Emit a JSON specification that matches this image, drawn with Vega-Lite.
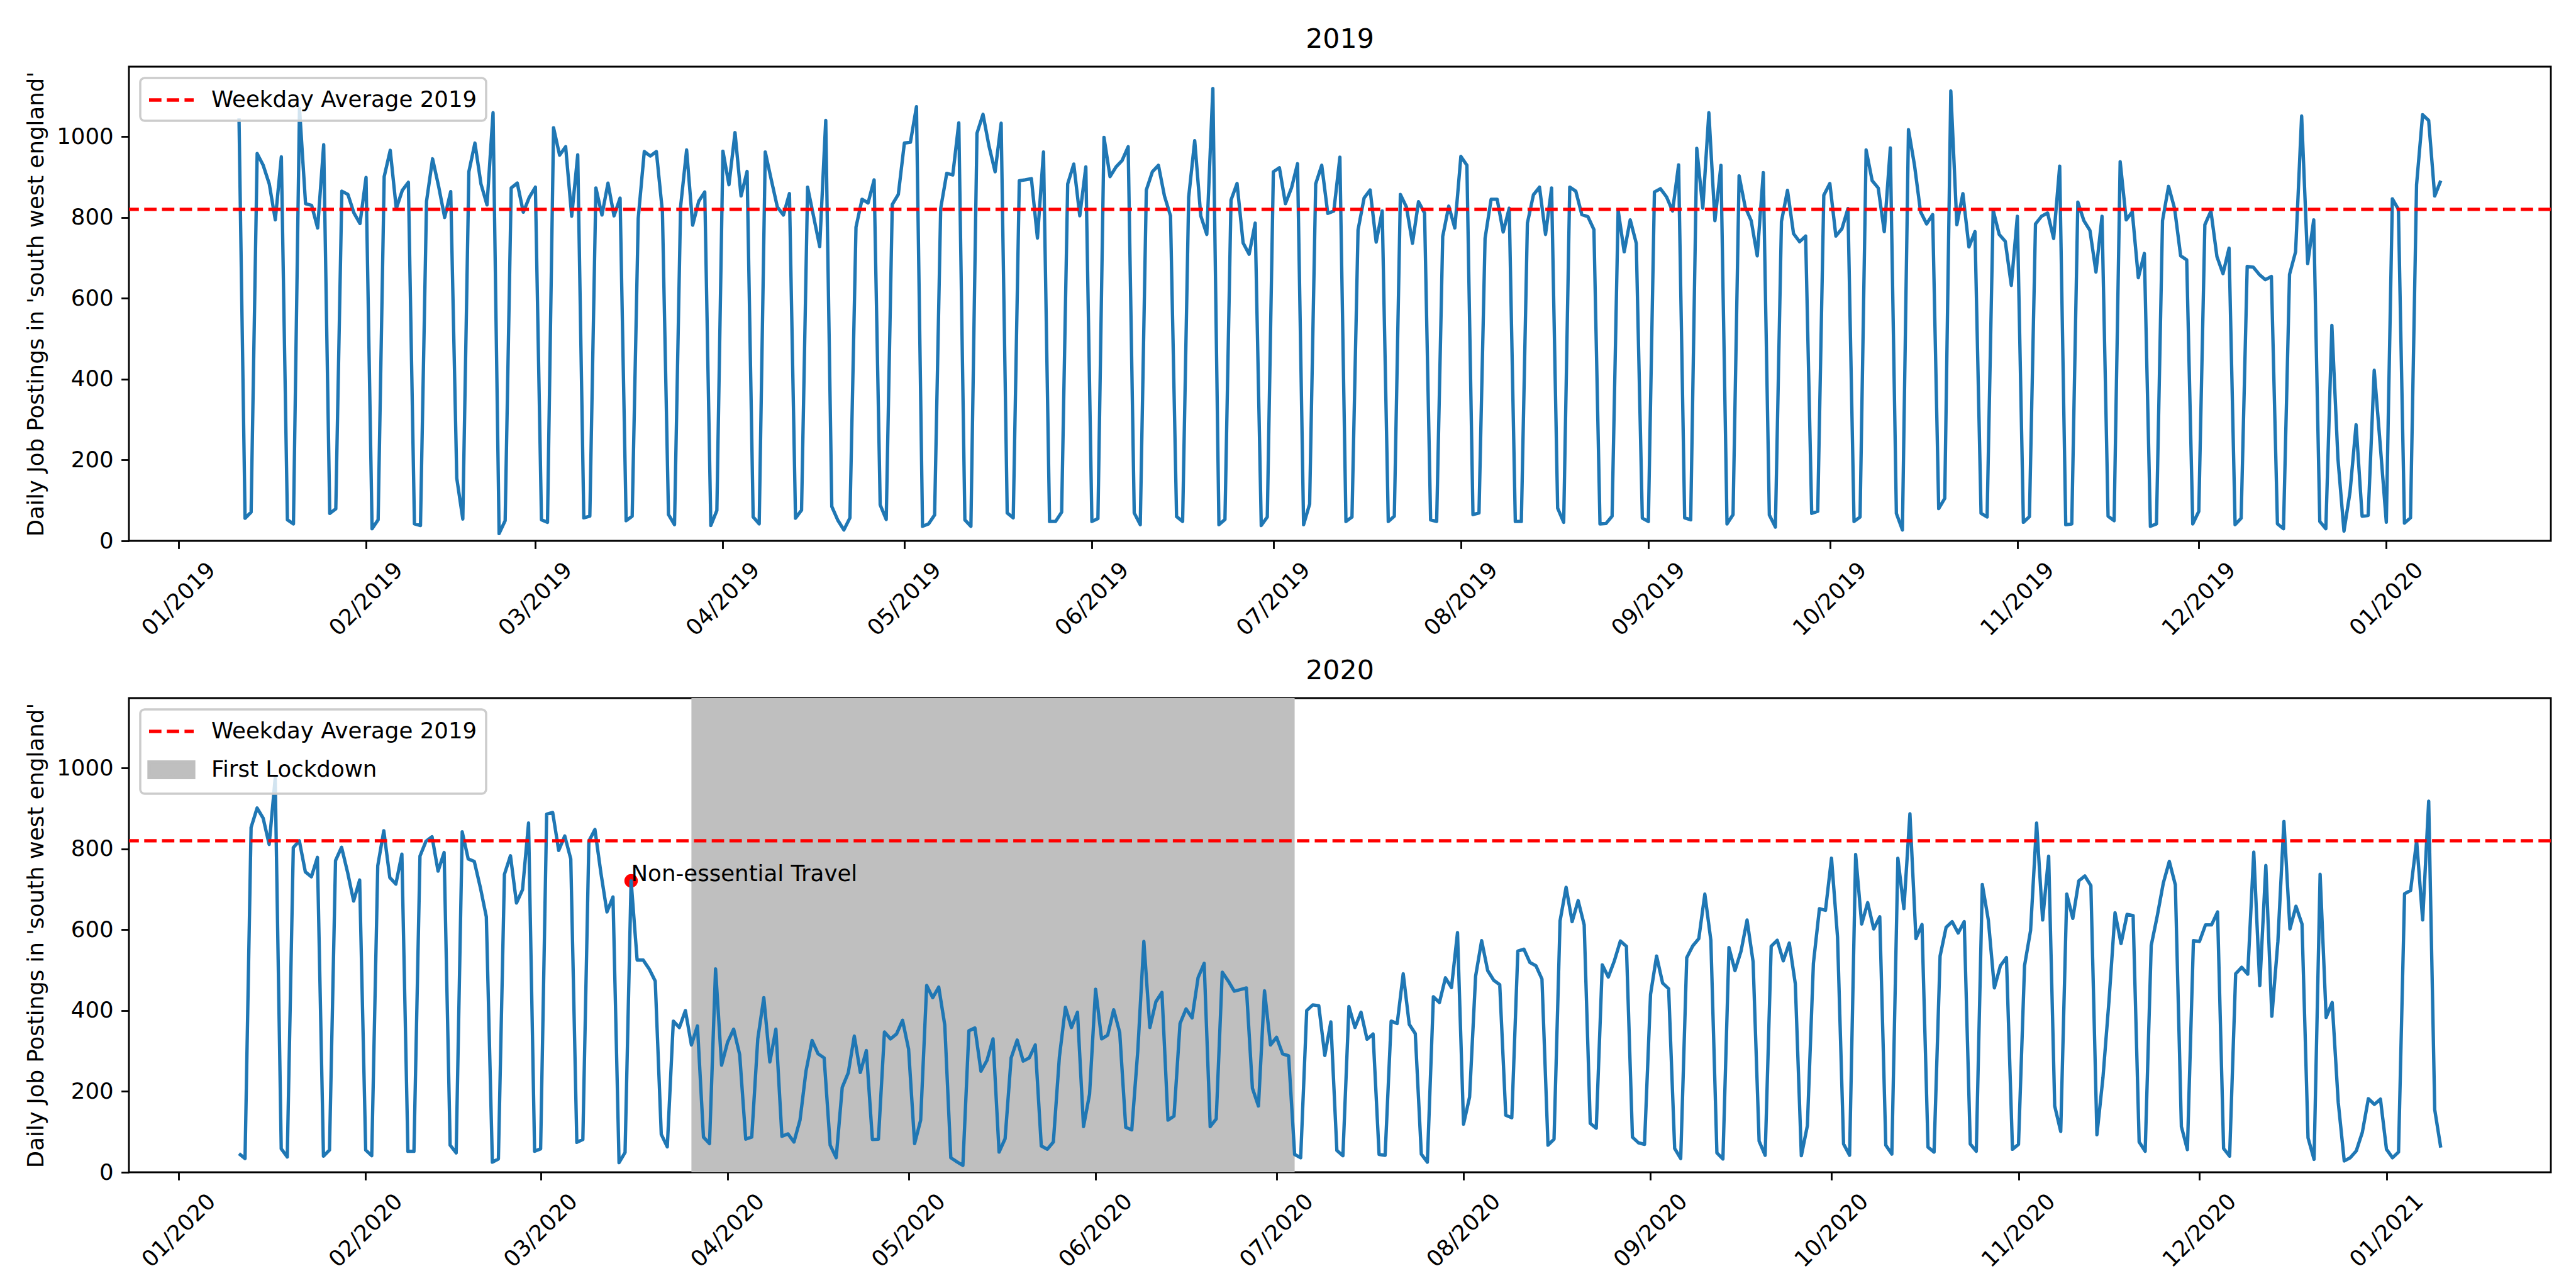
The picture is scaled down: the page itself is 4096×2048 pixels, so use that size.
{
  "$schema": "https://vega.github.io/schema/vega-lite/v6.json",
  "background": "white",
  "autosize": {"type": "pad"},
  "padding": {"left": 39, "top": 40, "right": 41, "bottom": 20},
  "bounds": "flush",
  "spacing": 250,
  "resolve": {"scale": {"color": "independent", "x": "independent"}, "legend": {"color": "independent"}, "axis": {"x": "independent"}},
  "config": {
    "font": "DejaVu Sans",
    "view": {"stroke": "black", "strokeWidth": 2.84},
    "axis": {
      "grid": false, "domain": false,
      "tickColor": "black", "tickWidth": 2.84, "tickSize": 12.4,
      "labelFont": "DejaVu Sans", "labelFontSize": 35.6, "labelColor": "black", "labelPadding": 12.4,
      "titleFont": "DejaVu Sans", "titleFontSize": 35.6, "titleFontWeight": "normal", "titleColor": "black"
    },
    "legend": {
      "orient": "top-left", "offset": 18, "padding": 14,
      "fillColor": "rgba(255,255,255,0.8)", "strokeColor": "#cccccc", "cornerRadius": 7,
      "labelFont": "DejaVu Sans", "labelFontSize": 35.6, "labelColor": "black", "labelOffset": 28, "labelLimit": 2000,
      "symbolSize": 1296, "rowPadding": 18
    },
    "title": {"font": "DejaVu Sans", "fontSize": 42.7, "fontWeight": "normal", "color": "black", "anchor": "middle", "frame": "group", "baseline": "alphabetic", "offset": 21.3}
  },
  "datasets": {
    "y2019": [
      {"d":"2019-01-11","v":1045},{"d":"2019-01-12","v":56},{"d":"2019-01-13","v":71},{"d":"2019-01-14","v":958},{"d":"2019-01-15","v":929},{"d":"2019-01-16","v":883},{"d":"2019-01-17","v":794},{"d":"2019-01-18","v":950},{"d":"2019-01-19","v":52},{"d":"2019-01-20","v":42},{"d":"2019-01-21","v":1070},{"d":"2019-01-22","v":834},{"d":"2019-01-23","v":830},{"d":"2019-01-24","v":774},{"d":"2019-01-25","v":980},{"d":"2019-01-26","v":68},{"d":"2019-01-27","v":79},{"d":"2019-01-28","v":865},{"d":"2019-01-29","v":857},{"d":"2019-01-30","v":811},{"d":"2019-01-31","v":785},
      {"d":"2019-02-01","v":899},{"d":"2019-02-02","v":30},{"d":"2019-02-03","v":52},{"d":"2019-02-04","v":901},{"d":"2019-02-05","v":966},{"d":"2019-02-06","v":822},{"d":"2019-02-07","v":867},{"d":"2019-02-08","v":887},{"d":"2019-02-09","v":42},{"d":"2019-02-10","v":38},{"d":"2019-02-11","v":840},{"d":"2019-02-12","v":945},{"d":"2019-02-13","v":877},{"d":"2019-02-14","v":800},{"d":"2019-02-15","v":864},{"d":"2019-02-16","v":155},{"d":"2019-02-17","v":54},{"d":"2019-02-18","v":913},{"d":"2019-02-19","v":984},{"d":"2019-02-20","v":883},{"d":"2019-02-21","v":831},{"d":"2019-02-22","v":1059},{"d":"2019-02-23","v":18},{"d":"2019-02-24","v":50},{"d":"2019-02-25","v":873},{"d":"2019-02-26","v":885},{"d":"2019-02-27","v":813},{"d":"2019-02-28","v":850},
      {"d":"2019-03-01","v":875},{"d":"2019-03-02","v":52},{"d":"2019-03-03","v":46},{"d":"2019-03-04","v":1022},{"d":"2019-03-05","v":954},{"d":"2019-03-06","v":975},{"d":"2019-03-07","v":803},{"d":"2019-03-08","v":955},{"d":"2019-03-09","v":57},{"d":"2019-03-10","v":61},{"d":"2019-03-11","v":873},{"d":"2019-03-12","v":806},{"d":"2019-03-13","v":885},{"d":"2019-03-14","v":804},{"d":"2019-03-15","v":848},{"d":"2019-03-16","v":50},{"d":"2019-03-17","v":61},{"d":"2019-03-18","v":798},{"d":"2019-03-19","v":963},{"d":"2019-03-20","v":952},{"d":"2019-03-21","v":963},{"d":"2019-03-22","v":814},{"d":"2019-03-23","v":65},{"d":"2019-03-24","v":40},{"d":"2019-03-25","v":826},{"d":"2019-03-26","v":967},{"d":"2019-03-27","v":781},{"d":"2019-03-28","v":840},{"d":"2019-03-29","v":863},{"d":"2019-03-30","v":38},{"d":"2019-03-31","v":75},
      {"d":"2019-04-01","v":964},{"d":"2019-04-02","v":881},{"d":"2019-04-03","v":1010},{"d":"2019-04-04","v":853},{"d":"2019-04-05","v":914},{"d":"2019-04-06","v":59},{"d":"2019-04-07","v":42},{"d":"2019-04-08","v":962},{"d":"2019-04-09","v":893},{"d":"2019-04-10","v":826},{"d":"2019-04-11","v":806},{"d":"2019-04-12","v":859},{"d":"2019-04-13","v":56},{"d":"2019-04-14","v":76},{"d":"2019-04-15","v":875},{"d":"2019-04-16","v":802},{"d":"2019-04-17","v":728},{"d":"2019-04-18","v":1040},{"d":"2019-04-19","v":85},{"d":"2019-04-20","v":51},{"d":"2019-04-21","v":27},{"d":"2019-04-22","v":57},{"d":"2019-04-23","v":776},{"d":"2019-04-24","v":845},{"d":"2019-04-25","v":836},{"d":"2019-04-26","v":893},{"d":"2019-04-27","v":89},{"d":"2019-04-28","v":53},{"d":"2019-04-29","v":832},{"d":"2019-04-30","v":857},
      {"d":"2019-05-01","v":984},{"d":"2019-05-02","v":986},{"d":"2019-05-03","v":1074},{"d":"2019-05-04","v":36},{"d":"2019-05-05","v":42},{"d":"2019-05-06","v":64},{"d":"2019-05-07","v":822},{"d":"2019-05-08","v":909},{"d":"2019-05-09","v":905},{"d":"2019-05-10","v":1034},{"d":"2019-05-11","v":52},{"d":"2019-05-12","v":36},{"d":"2019-05-13","v":1008},{"d":"2019-05-14","v":1055},{"d":"2019-05-15","v":976},{"d":"2019-05-16","v":913},{"d":"2019-05-17","v":1033},{"d":"2019-05-18","v":69},{"d":"2019-05-19","v":57},{"d":"2019-05-20","v":891},{"d":"2019-05-21","v":893},{"d":"2019-05-22","v":896},{"d":"2019-05-23","v":749},{"d":"2019-05-24","v":962},{"d":"2019-05-25","v":48},{"d":"2019-05-26","v":48},{"d":"2019-05-27","v":71},{"d":"2019-05-28","v":883},{"d":"2019-05-29","v":932},{"d":"2019-05-30","v":804},{"d":"2019-05-31","v":925},
      {"d":"2019-06-01","v":48},{"d":"2019-06-02","v":55},{"d":"2019-06-03","v":998},{"d":"2019-06-04","v":901},{"d":"2019-06-05","v":925},{"d":"2019-06-06","v":941},{"d":"2019-06-07","v":975},{"d":"2019-06-08","v":69},{"d":"2019-06-09","v":40},{"d":"2019-06-10","v":868},{"d":"2019-06-11","v":913},{"d":"2019-06-12","v":929},{"d":"2019-06-13","v":853},{"d":"2019-06-14","v":804},{"d":"2019-06-15","v":60},{"d":"2019-06-16","v":48},{"d":"2019-06-17","v":850},{"d":"2019-06-18","v":990},{"d":"2019-06-19","v":804},{"d":"2019-06-20","v":758},{"d":"2019-06-21","v":1119},{"d":"2019-06-22","v":40},{"d":"2019-06-23","v":53},{"d":"2019-06-24","v":843},{"d":"2019-06-25","v":884},{"d":"2019-06-26","v":737},{"d":"2019-06-27","v":709},{"d":"2019-06-28","v":786},{"d":"2019-06-29","v":38},{"d":"2019-06-30","v":59},
      {"d":"2019-07-01","v":913},{"d":"2019-07-02","v":923},{"d":"2019-07-03","v":834},{"d":"2019-07-04","v":873},{"d":"2019-07-05","v":933},{"d":"2019-07-06","v":40},{"d":"2019-07-07","v":91},{"d":"2019-07-08","v":883},{"d":"2019-07-09","v":929},{"d":"2019-07-10","v":810},{"d":"2019-07-11","v":816},{"d":"2019-07-12","v":949},{"d":"2019-07-13","v":48},{"d":"2019-07-14","v":59},{"d":"2019-07-15","v":769},{"d":"2019-07-16","v":848},{"d":"2019-07-17","v":868},{"d":"2019-07-18","v":739},{"d":"2019-07-19","v":816},{"d":"2019-07-20","v":48},{"d":"2019-07-21","v":61},{"d":"2019-07-22","v":857},{"d":"2019-07-23","v":826},{"d":"2019-07-24","v":736},{"d":"2019-07-25","v":839},{"d":"2019-07-26","v":811},{"d":"2019-07-27","v":52},{"d":"2019-07-28","v":48},{"d":"2019-07-29","v":753},{"d":"2019-07-30","v":828},{"d":"2019-07-31","v":774},
      {"d":"2019-08-01","v":951},{"d":"2019-08-02","v":929},{"d":"2019-08-03","v":65},{"d":"2019-08-04","v":69},{"d":"2019-08-05","v":748},{"d":"2019-08-06","v":845},{"d":"2019-08-07","v":845},{"d":"2019-08-08","v":764},{"d":"2019-08-09","v":823},{"d":"2019-08-10","v":48},{"d":"2019-08-11","v":48},{"d":"2019-08-12","v":786},{"d":"2019-08-13","v":856},{"d":"2019-08-14","v":875},{"d":"2019-08-15","v":758},{"d":"2019-08-16","v":873},{"d":"2019-08-17","v":81},{"d":"2019-08-18","v":46},{"d":"2019-08-19","v":875},{"d":"2019-08-20","v":865},{"d":"2019-08-21","v":807},{"d":"2019-08-22","v":802},{"d":"2019-08-23","v":770},{"d":"2019-08-24","v":42},{"d":"2019-08-25","v":43},{"d":"2019-08-26","v":61},{"d":"2019-08-27","v":818},{"d":"2019-08-28","v":715},{"d":"2019-08-29","v":794},{"d":"2019-08-30","v":736},{"d":"2019-08-31","v":56},
      {"d":"2019-09-01","v":48},{"d":"2019-09-02","v":863},{"d":"2019-09-03","v":871},{"d":"2019-09-04","v":851},{"d":"2019-09-05","v":816},{"d":"2019-09-06","v":930},{"d":"2019-09-07","v":57},{"d":"2019-09-08","v":52},{"d":"2019-09-09","v":971},{"d":"2019-09-10","v":823},{"d":"2019-09-11","v":1059},{"d":"2019-09-12","v":792},{"d":"2019-09-13","v":929},{"d":"2019-09-14","v":42},{"d":"2019-09-15","v":65},{"d":"2019-09-16","v":903},{"d":"2019-09-17","v":826},{"d":"2019-09-18","v":792},{"d":"2019-09-19","v":705},{"d":"2019-09-20","v":911},{"d":"2019-09-21","v":64},{"d":"2019-09-22","v":34},{"d":"2019-09-23","v":790},{"d":"2019-09-24","v":867},{"d":"2019-09-25","v":760},{"d":"2019-09-26","v":740},{"d":"2019-09-27","v":754},{"d":"2019-09-28","v":68},{"d":"2019-09-29","v":73},{"d":"2019-09-30","v":855},
      {"d":"2019-10-01","v":884},{"d":"2019-10-02","v":754},{"d":"2019-10-03","v":772},{"d":"2019-10-04","v":822},{"d":"2019-10-05","v":48},{"d":"2019-10-06","v":59},{"d":"2019-10-07","v":967},{"d":"2019-10-08","v":891},{"d":"2019-10-09","v":873},{"d":"2019-10-10","v":765},{"d":"2019-10-11","v":972},{"d":"2019-10-12","v":68},{"d":"2019-10-13","v":27},{"d":"2019-10-14","v":1017},{"d":"2019-10-15","v":929},{"d":"2019-10-16","v":814},{"d":"2019-10-17","v":784},{"d":"2019-10-18","v":807},{"d":"2019-10-19","v":80},{"d":"2019-10-20","v":105},{"d":"2019-10-21","v":1113},{"d":"2019-10-22","v":782},{"d":"2019-10-23","v":859},{"d":"2019-10-24","v":727},{"d":"2019-10-25","v":765},{"d":"2019-10-26","v":68},{"d":"2019-10-27","v":59},{"d":"2019-10-28","v":818},{"d":"2019-10-29","v":758},{"d":"2019-10-30","v":741},{"d":"2019-10-31","v":632},
      {"d":"2019-11-01","v":803},{"d":"2019-11-02","v":46},{"d":"2019-11-03","v":60},{"d":"2019-11-04","v":784},{"d":"2019-11-05","v":803},{"d":"2019-11-06","v":811},{"d":"2019-11-07","v":748},{"d":"2019-11-08","v":927},{"d":"2019-11-09","v":40},{"d":"2019-11-10","v":42},{"d":"2019-11-11","v":838},{"d":"2019-11-12","v":792},{"d":"2019-11-13","v":768},{"d":"2019-11-14","v":665},{"d":"2019-11-15","v":803},{"d":"2019-11-16","v":61},{"d":"2019-11-17","v":50},{"d":"2019-11-18","v":938},{"d":"2019-11-19","v":794},{"d":"2019-11-20","v":814},{"d":"2019-11-21","v":651},{"d":"2019-11-22","v":711},{"d":"2019-11-23","v":36},{"d":"2019-11-24","v":42},{"d":"2019-11-25","v":792},{"d":"2019-11-26","v":877},{"d":"2019-11-27","v":822},{"d":"2019-11-28","v":705},{"d":"2019-11-29","v":695},{"d":"2019-11-30","v":42},
      {"d":"2019-12-01","v":73},{"d":"2019-12-02","v":782},{"d":"2019-12-03","v":816},{"d":"2019-12-04","v":703},{"d":"2019-12-05","v":661},{"d":"2019-12-06","v":724},{"d":"2019-12-07","v":40},{"d":"2019-12-08","v":56},{"d":"2019-12-09","v":679},{"d":"2019-12-10","v":677},{"d":"2019-12-11","v":659},{"d":"2019-12-12","v":646},{"d":"2019-12-13","v":654},{"d":"2019-12-14","v":42},{"d":"2019-12-15","v":30},{"d":"2019-12-16","v":659},{"d":"2019-12-17","v":715},{"d":"2019-12-18","v":1051},{"d":"2019-12-19","v":686},{"d":"2019-12-20","v":794},{"d":"2019-12-21","v":48},{"d":"2019-12-22","v":30},{"d":"2019-12-23","v":533},{"d":"2019-12-24","v":204},{"d":"2019-12-25","v":24},{"d":"2019-12-26","v":121},{"d":"2019-12-27","v":287},{"d":"2019-12-28","v":61},{"d":"2019-12-29","v":63},{"d":"2019-12-30","v":422},{"d":"2019-12-31","v":236},
      {"d":"2020-01-01","v":46},{"d":"2020-01-02","v":846},{"d":"2020-01-03","v":820},{"d":"2020-01-04","v":44},{"d":"2020-01-05","v":57},{"d":"2020-01-06","v":881},{"d":"2020-01-07","v":1054},{"d":"2020-01-08","v":1040},{"d":"2020-01-09","v":853},{"d":"2020-01-10","v":891}
    ],
    "y2020": [
      {"d":"2020-01-11","v":46},{"d":"2020-01-12","v":34},{"d":"2020-01-13","v":853},{"d":"2020-01-14","v":901},{"d":"2020-01-15","v":876},{"d":"2020-01-16","v":811},{"d":"2020-01-17","v":975},{"d":"2020-01-18","v":58},{"d":"2020-01-19","v":38},{"d":"2020-01-20","v":803},{"d":"2020-01-21","v":820},{"d":"2020-01-22","v":743},{"d":"2020-01-23","v":731},{"d":"2020-01-24","v":779},{"d":"2020-01-25","v":40},{"d":"2020-01-26","v":55},{"d":"2020-01-27","v":771},{"d":"2020-01-28","v":804},{"d":"2020-01-29","v":742},{"d":"2020-01-30","v":671},{"d":"2020-01-31","v":723},
      {"d":"2020-02-01","v":55},{"d":"2020-02-02","v":41},{"d":"2020-02-03","v":758},{"d":"2020-02-04","v":845},{"d":"2020-02-05","v":729},{"d":"2020-02-06","v":713},{"d":"2020-02-07","v":787},{"d":"2020-02-08","v":52},{"d":"2020-02-09","v":52},{"d":"2020-02-10","v":782},{"d":"2020-02-11","v":819},{"d":"2020-02-12","v":830},{"d":"2020-02-13","v":745},{"d":"2020-02-14","v":791},{"d":"2020-02-15","v":67},{"d":"2020-02-16","v":48},{"d":"2020-02-17","v":842},{"d":"2020-02-18","v":775},{"d":"2020-02-19","v":769},{"d":"2020-02-20","v":705},{"d":"2020-02-21","v":632},{"d":"2020-02-22","v":25},{"d":"2020-02-23","v":33},{"d":"2020-02-24","v":737},{"d":"2020-02-25","v":783},{"d":"2020-02-26","v":666},{"d":"2020-02-27","v":699},{"d":"2020-02-28","v":864},{"d":"2020-02-29","v":52},
      {"d":"2020-03-01","v":58},{"d":"2020-03-02","v":886},{"d":"2020-03-03","v":890},{"d":"2020-03-04","v":796},{"d":"2020-03-05","v":832},{"d":"2020-03-06","v":775},{"d":"2020-03-07","v":74},{"d":"2020-03-08","v":81},{"d":"2020-03-09","v":819},{"d":"2020-03-10","v":848},{"d":"2020-03-11","v":740},{"d":"2020-03-12","v":644},{"d":"2020-03-13","v":681},{"d":"2020-03-14","v":24},{"d":"2020-03-15","v":49},{"d":"2020-03-16","v":721},{"d":"2020-03-17","v":525},{"d":"2020-03-18","v":525},{"d":"2020-03-19","v":503},{"d":"2020-03-20","v":473},{"d":"2020-03-21","v":94},{"d":"2020-03-22","v":63},{"d":"2020-03-23","v":374},{"d":"2020-03-24","v":358},{"d":"2020-03-25","v":400},{"d":"2020-03-26","v":315},{"d":"2020-03-27","v":362},{"d":"2020-03-28","v":87},{"d":"2020-03-29","v":71},{"d":"2020-03-30","v":503},{"d":"2020-03-31","v":265},
      {"d":"2020-04-01","v":322},{"d":"2020-04-02","v":354},{"d":"2020-04-03","v":291},{"d":"2020-04-04","v":82},{"d":"2020-04-05","v":87},{"d":"2020-04-06","v":330},{"d":"2020-04-07","v":432},{"d":"2020-04-08","v":273},{"d":"2020-04-09","v":354},{"d":"2020-04-10","v":89},{"d":"2020-04-11","v":95},{"d":"2020-04-12","v":75},{"d":"2020-04-13","v":129},{"d":"2020-04-14","v":251},{"d":"2020-04-15","v":326},{"d":"2020-04-16","v":293},{"d":"2020-04-17","v":283},{"d":"2020-04-18","v":67},{"d":"2020-04-19","v":36},{"d":"2020-04-20","v":210},{"d":"2020-04-21","v":246},{"d":"2020-04-22","v":337},{"d":"2020-04-23","v":247},{"d":"2020-04-24","v":301},{"d":"2020-04-25","v":81},{"d":"2020-04-26","v":82},{"d":"2020-04-27","v":347},{"d":"2020-04-28","v":330},{"d":"2020-04-29","v":342},{"d":"2020-04-30","v":376},
      {"d":"2020-05-01","v":305},{"d":"2020-05-02","v":71},{"d":"2020-05-03","v":129},{"d":"2020-05-04","v":462},{"d":"2020-05-05","v":432},{"d":"2020-05-06","v":458},{"d":"2020-05-07","v":364},{"d":"2020-05-08","v":36},{"d":"2020-05-09","v":26},{"d":"2020-05-10","v":17},{"d":"2020-05-11","v":350},{"d":"2020-05-12","v":357},{"d":"2020-05-13","v":250},{"d":"2020-05-14","v":277},{"d":"2020-05-15","v":330},{"d":"2020-05-16","v":50},{"d":"2020-05-17","v":83},{"d":"2020-05-18","v":283},{"d":"2020-05-19","v":327},{"d":"2020-05-20","v":275},{"d":"2020-05-21","v":283},{"d":"2020-05-22","v":315},{"d":"2020-05-23","v":65},{"d":"2020-05-24","v":57},{"d":"2020-05-25","v":75},{"d":"2020-05-26","v":285},{"d":"2020-05-27","v":408},{"d":"2020-05-28","v":358},{"d":"2020-05-29","v":396},{"d":"2020-05-30","v":113},{"d":"2020-05-31","v":193},
      {"d":"2020-06-01","v":453},{"d":"2020-06-02","v":330},{"d":"2020-06-03","v":339},{"d":"2020-06-04","v":402},{"d":"2020-06-05","v":346},{"d":"2020-06-06","v":111},{"d":"2020-06-07","v":105},{"d":"2020-06-08","v":301},{"d":"2020-06-09","v":571},{"d":"2020-06-10","v":358},{"d":"2020-06-11","v":422},{"d":"2020-06-12","v":445},{"d":"2020-06-13","v":129},{"d":"2020-06-14","v":139},{"d":"2020-06-15","v":368},{"d":"2020-06-16","v":404},{"d":"2020-06-17","v":382},{"d":"2020-06-18","v":482},{"d":"2020-06-19","v":517},{"d":"2020-06-20","v":113},{"d":"2020-06-21","v":132},{"d":"2020-06-22","v":495},{"d":"2020-06-23","v":473},{"d":"2020-06-24","v":448},{"d":"2020-06-25","v":452},{"d":"2020-06-26","v":456},{"d":"2020-06-27","v":208},{"d":"2020-06-28","v":164},{"d":"2020-06-29","v":449},{"d":"2020-06-30","v":315},
      {"d":"2020-07-01","v":334},{"d":"2020-07-02","v":293},{"d":"2020-07-03","v":288},{"d":"2020-07-04","v":44},{"d":"2020-07-05","v":36},{"d":"2020-07-06","v":400},{"d":"2020-07-07","v":414},{"d":"2020-07-08","v":412},{"d":"2020-07-09","v":289},{"d":"2020-07-10","v":372},{"d":"2020-07-11","v":54},{"d":"2020-07-12","v":41},{"d":"2020-07-13","v":410},{"d":"2020-07-14","v":358},{"d":"2020-07-15","v":396},{"d":"2020-07-16","v":329},{"d":"2020-07-17","v":342},{"d":"2020-07-18","v":44},{"d":"2020-07-19","v":42},{"d":"2020-07-20","v":374},{"d":"2020-07-21","v":368},{"d":"2020-07-22","v":491},{"d":"2020-07-23","v":366},{"d":"2020-07-24","v":343},{"d":"2020-07-25","v":45},{"d":"2020-07-26","v":25},{"d":"2020-07-27","v":434},{"d":"2020-07-28","v":420},{"d":"2020-07-29","v":481},{"d":"2020-07-30","v":457},{"d":"2020-07-31","v":593},
      {"d":"2020-08-01","v":119},{"d":"2020-08-02","v":186},{"d":"2020-08-03","v":485},{"d":"2020-08-04","v":573},{"d":"2020-08-05","v":499},{"d":"2020-08-06","v":475},{"d":"2020-08-07","v":464},{"d":"2020-08-08","v":141},{"d":"2020-08-09","v":135},{"d":"2020-08-10","v":547},{"d":"2020-08-11","v":552},{"d":"2020-08-12","v":519},{"d":"2020-08-13","v":511},{"d":"2020-08-14","v":478},{"d":"2020-08-15","v":67},{"d":"2020-08-16","v":82},{"d":"2020-08-17","v":622},{"d":"2020-08-18","v":705},{"d":"2020-08-19","v":620},{"d":"2020-08-20","v":672},{"d":"2020-08-21","v":612},{"d":"2020-08-22","v":121},{"d":"2020-08-23","v":109},{"d":"2020-08-24","v":513},{"d":"2020-08-25","v":483},{"d":"2020-08-26","v":523},{"d":"2020-08-27","v":572},{"d":"2020-08-28","v":559},{"d":"2020-08-29","v":87},{"d":"2020-08-30","v":73},{"d":"2020-08-31","v":69},
      {"d":"2020-09-01","v":440},{"d":"2020-09-02","v":535},{"d":"2020-09-03","v":468},{"d":"2020-09-04","v":454},{"d":"2020-09-05","v":59},{"d":"2020-09-06","v":34},{"d":"2020-09-07","v":531},{"d":"2020-09-08","v":560},{"d":"2020-09-09","v":578},{"d":"2020-09-10","v":688},{"d":"2020-09-11","v":574},{"d":"2020-09-12","v":48},{"d":"2020-09-13","v":33},{"d":"2020-09-14","v":556},{"d":"2020-09-15","v":499},{"d":"2020-09-16","v":547},{"d":"2020-09-17","v":624},{"d":"2020-09-18","v":521},{"d":"2020-09-19","v":77},{"d":"2020-09-20","v":42},{"d":"2020-09-21","v":559},{"d":"2020-09-22","v":574},{"d":"2020-09-23","v":523},{"d":"2020-09-24","v":567},{"d":"2020-09-25","v":466},{"d":"2020-09-26","v":41},{"d":"2020-09-27","v":115},{"d":"2020-09-28","v":517},{"d":"2020-09-29","v":652},{"d":"2020-09-30","v":648},
      {"d":"2020-10-01","v":777},{"d":"2020-10-02","v":582},{"d":"2020-10-03","v":70},{"d":"2020-10-04","v":42},{"d":"2020-10-05","v":786},{"d":"2020-10-06","v":614},{"d":"2020-10-07","v":667},{"d":"2020-10-08","v":602},{"d":"2020-10-09","v":632},{"d":"2020-10-10","v":67},{"d":"2020-10-11","v":45},{"d":"2020-10-12","v":777},{"d":"2020-10-13","v":652},{"d":"2020-10-14","v":887},{"d":"2020-10-15","v":578},{"d":"2020-10-16","v":613},{"d":"2020-10-17","v":62},{"d":"2020-10-18","v":50},{"d":"2020-10-19","v":535},{"d":"2020-10-20","v":606},{"d":"2020-10-21","v":620},{"d":"2020-10-22","v":592},{"d":"2020-10-23","v":620},{"d":"2020-10-24","v":70},{"d":"2020-10-25","v":52},{"d":"2020-10-26","v":712},{"d":"2020-10-27","v":624},{"d":"2020-10-28","v":456},{"d":"2020-10-29","v":511},{"d":"2020-10-30","v":531},{"d":"2020-10-31","v":57},
      {"d":"2020-11-01","v":69},{"d":"2020-11-02","v":511},{"d":"2020-11-03","v":598},{"d":"2020-11-04","v":864},{"d":"2020-11-05","v":624},{"d":"2020-11-06","v":782},{"d":"2020-11-07","v":164},{"d":"2020-11-08","v":101},{"d":"2020-11-09","v":688},{"d":"2020-11-10","v":628},{"d":"2020-11-11","v":721},{"d":"2020-11-12","v":733},{"d":"2020-11-13","v":709},{"d":"2020-11-14","v":93},{"d":"2020-11-15","v":234},{"d":"2020-11-16","v":424},{"d":"2020-11-17","v":642},{"d":"2020-11-18","v":566},{"d":"2020-11-19","v":638},{"d":"2020-11-20","v":635},{"d":"2020-11-21","v":75},{"d":"2020-11-22","v":52},{"d":"2020-11-23","v":561},{"d":"2020-11-24","v":634},{"d":"2020-11-25","v":715},{"d":"2020-11-26","v":769},{"d":"2020-11-27","v":711},{"d":"2020-11-28","v":113},{"d":"2020-11-29","v":56},{"d":"2020-11-30","v":573},
      {"d":"2020-12-01","v":571},{"d":"2020-12-02","v":612},{"d":"2020-12-03","v":612},{"d":"2020-12-04","v":644},{"d":"2020-12-05","v":59},{"d":"2020-12-06","v":40},{"d":"2020-12-07","v":491},{"d":"2020-12-08","v":507},{"d":"2020-12-09","v":490},{"d":"2020-12-10","v":792},{"d":"2020-12-11","v":462},{"d":"2020-12-12","v":759},{"d":"2020-12-13","v":386},{"d":"2020-12-14","v":571},{"d":"2020-12-15","v":868},{"d":"2020-12-16","v":602},{"d":"2020-12-17","v":658},{"d":"2020-12-18","v":614},{"d":"2020-12-19","v":85},{"d":"2020-12-20","v":32},{"d":"2020-12-21","v":737},{"d":"2020-12-22","v":383},{"d":"2020-12-23","v":420},{"d":"2020-12-24","v":174},{"d":"2020-12-25","v":28},{"d":"2020-12-26","v":36},{"d":"2020-12-27","v":53},{"d":"2020-12-28","v":99},{"d":"2020-12-29","v":182},{"d":"2020-12-30","v":168},{"d":"2020-12-31","v":181},
      {"d":"2021-01-01","v":57},{"d":"2021-01-02","v":36},{"d":"2021-01-03","v":50},{"d":"2021-01-04","v":689},{"d":"2021-01-05","v":697},{"d":"2021-01-06","v":820},{"d":"2021-01-07","v":624},{"d":"2021-01-08","v":918},{"d":"2021-01-09","v":155},{"d":"2021-01-10","v":61}
    ]
  },
  "vconcat": [
    {
      "width": 3851,
      "height": 754,
      "title": {"text": "2019"},
      "layer": [
        {
          "data": {"name": "y2019"},
          "mark": {"type": "line", "color": "#1f77b4", "strokeWidth": 5.33, "strokeJoin": "round"},
          "encoding": {
            "x": {
              "field": "d", "type": "temporal",
              "scale": {"type": "utc", "domain": [{"year": 2018, "month": 12, "date": 23, "hours": 19, "minutes": 12, "utc": true}, {"year": 2020, "month": 1, "date": 28, "hours": 4, "minutes": 48, "utc": true}]},
              "axis": {"title": null, "labelExpr": "utcFormat(datum.value, '%m/%Y')", "tickCount": {"interval": "month", "step": 1}, "labelAngle": -45, "labelAlign": "center", "labelBaseline": "middle", "labelPadding": 80}
            },
            "y": {
              "field": "v", "type": "quantitative",
              "scale": {"domain": [0, 1173], "nice": false},
              "axis": {"title": "Daily Job Postings in 'south west england'", "values": [0, 200, 400, 600, 800, 1000], "format": "d", "titlePadding": 14}
            }
          }
        },
        {
          "data": {"values": [{"avg": 820}]},
          "mark": {"type": "rule", "strokeWidth": 5.33, "strokeDash": [19.7, 8.5]},
          "encoding": {
            "y": {"field": "avg", "type": "quantitative"},
            "color": {
              "datum": "Weekday Average 2019", "type": "nominal",
              "scale": {"domain": ["Weekday Average 2019"], "range": ["#ff0000"]},
              "legend": {
                "title": null,
                "encode": {
                  "legend": {"update": {"strokeWidth": {"value": 3.5}}},
                  "labels": {"update": {"x": {"value": 99}}},
                  "symbols": {"update": {
                    "x": {"value": 35.5},
                    "shape": {"value": "M-1.972,0H1.972"},
                    "fill": {"value": "transparent"},
                    "stroke": {"value": "#ff0000"},
                    "strokeWidth": {"value": 5.33},
                    "strokeDash": {"value": [19.7, 8.5]},
                    "opacity": {"value": 1},
                    "size": {"value": 1296}
                  }}
                }
              }
            }
          }
        }
      ]
    },
    {
      "width": 3851,
      "height": 754,
      "title": {"text": "2020"},
      "layer": [
        {
          "data": {"values": [{"s": "2020-03-26", "e": "2020-07-04"}]},
          "mark": {"type": "rect", "opacity": 1},
          "encoding": {
            "x": {
              "field": "s", "type": "temporal",
              "scale": {"type": "utc", "domain": [{"year": 2019, "month": 12, "date": 23, "hours": 18, "utc": true}, {"year": 2021, "month": 1, "date": 28, "hours": 6, "utc": true}]},
              "axis": {"title": null, "labelExpr": "utcFormat(datum.value, '%m/%Y')", "tickCount": {"interval": "month", "step": 1}, "labelAngle": -45, "labelAlign": "center", "labelBaseline": "middle", "labelPadding": 80}
            },
            "x2": {"field": "e"},
            "color": {
              "datum": "First Lockdown", "type": "nominal",
              "scale": {"domain": ["Weekday Average 2019", "First Lockdown"], "range": ["#ff0000", "#bfbfbf"]},
              "legend": {
                "title": null,
                "encode": {
                  "legend": {"update": {"strokeWidth": {"value": 3.5}}},
                  "labels": {"update": {"x": {"value": 99}}},
                  "symbols": {"update": {
                    "x": {"value": 35.5},
                    "shape": {"signal": "datum.value === 'First Lockdown' ? 'M-1.972,-0.69H1.972V0.69H-1.972Z' : 'M-1.972,0H1.972'"},
                    "fill": {"signal": "datum.value === 'First Lockdown' ? '#bfbfbf' : 'transparent'"},
                    "stroke": {"signal": "datum.value === 'First Lockdown' ? 'transparent' : '#ff0000'"},
                    "strokeWidth": {"value": 5.33},
                    "strokeDash": {"signal": "datum.value === 'First Lockdown' ? [1, 0] : [19.7, 8.5]"},
                    "opacity": {"value": 1},
                    "size": {"value": 1296}
                  }}
                }
              }
            }
          }
        },
        {
          "data": {"values": [{"d": "2020-03-16", "v": 721}]},
          "mark": {"type": "circle", "size": 460, "color": "#ff0000", "opacity": 1},
          "encoding": {
            "x": {"field": "d", "type": "temporal"},
            "y": {"field": "v", "type": "quantitative"}
          }
        },
        {
          "data": {"name": "y2020"},
          "mark": {"type": "line", "color": "#1f77b4", "strokeWidth": 5.33, "strokeJoin": "round"},
          "encoding": {
            "x": {"field": "d", "type": "temporal"},
            "y": {
              "field": "v", "type": "quantitative",
              "scale": {"domain": [0, 1173], "nice": false},
              "axis": {"title": "Daily Job Postings in 'south west england'", "values": [0, 200, 400, 600, 800, 1000], "format": "d", "titlePadding": 14}
            }
          }
        },
        {
          "data": {"values": [{"avg": 820}]},
          "mark": {"type": "rule", "strokeWidth": 5.33, "strokeDash": [19.7, 8.5]},
          "encoding": {
            "y": {"field": "avg", "type": "quantitative"},
            "color": {
              "datum": "Weekday Average 2019", "type": "nominal",
              "legend": {
                "title": null,
                "encode": {
                  "legend": {"update": {"strokeWidth": {"value": 3.5}}},
                  "labels": {"update": {"x": {"value": 99}}},
                  "symbols": {"update": {
                    "x": {"value": 35.5},
                    "shape": {"signal": "datum.value === 'First Lockdown' ? 'M-1.972,-0.69H1.972V0.69H-1.972Z' : 'M-1.972,0H1.972'"},
                    "fill": {"signal": "datum.value === 'First Lockdown' ? '#bfbfbf' : 'transparent'"},
                    "stroke": {"signal": "datum.value === 'First Lockdown' ? 'transparent' : '#ff0000'"},
                    "strokeWidth": {"value": 5.33},
                    "strokeDash": {"signal": "datum.value === 'First Lockdown' ? [1, 0] : [19.7, 8.5]"},
                    "opacity": {"value": 1},
                    "size": {"value": 1296}
                  }}
                }
              }
            }
          }
        },
        {
          "data": {"values": [{"d": "2020-03-16", "v": 721, "label": "Non-essential Travel"}]},
          "mark": {"type": "text", "align": "left", "baseline": "alphabetic", "fontSize": 35.6, "font": "DejaVu Sans", "color": "black"},
          "encoding": {
            "x": {"field": "d", "type": "temporal"},
            "y": {"field": "v", "type": "quantitative"},
            "text": {"field": "label"}
          }
        }
      ]
    }
  ]
}
